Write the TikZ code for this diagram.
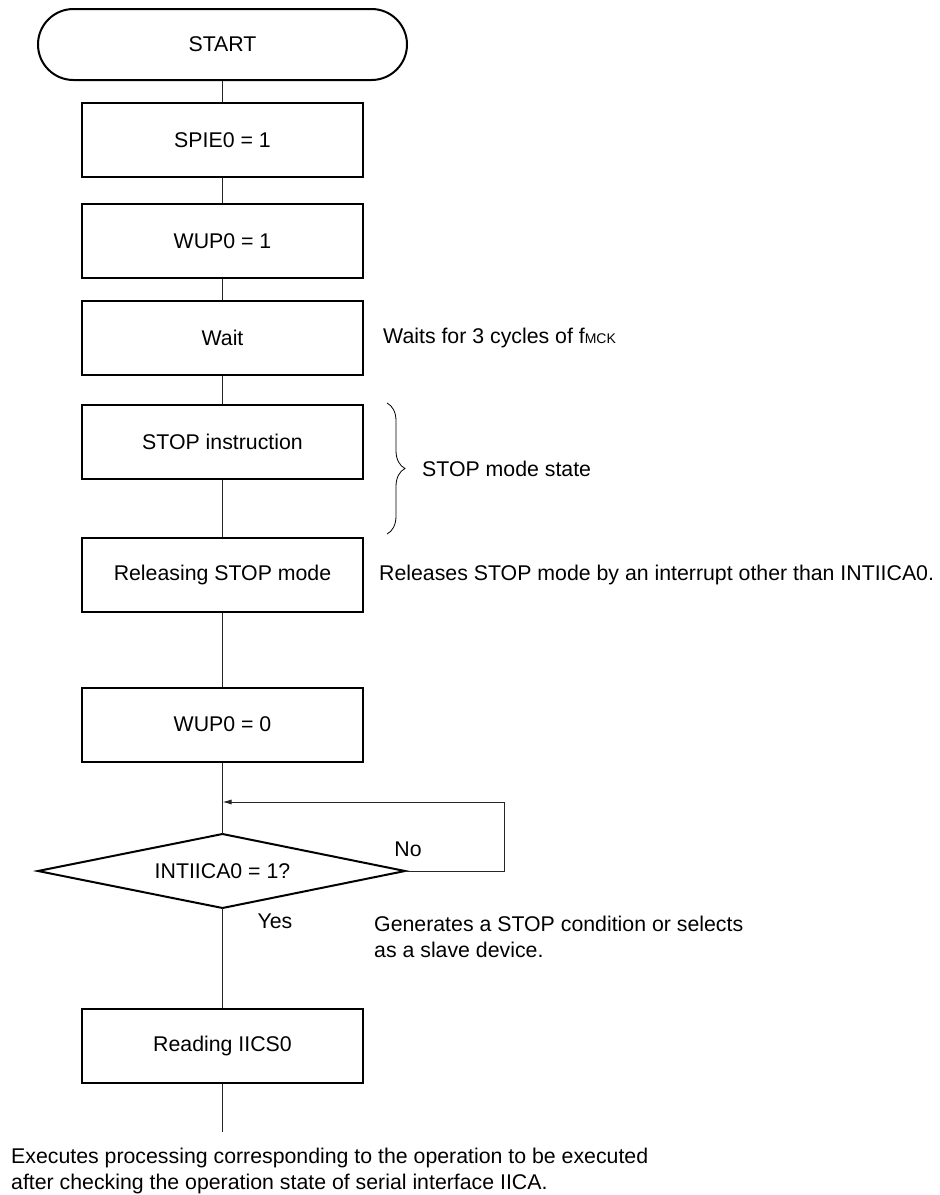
\documentclass[tikz,border=0pt]{standalone}
\usepackage{fontspec}
\setmainfont{Liberation Sans}
\usetikzlibrary{decorations.pathreplacing,arrows.meta}
\begin{document}
\begin{tikzpicture}[x=1pt,y=-1pt,
  every node/.style={font=\fontsize{21.3}{26}\selectfont},
  procbox/.style={draw, line width=2pt, minimum width=281pt, minimum height=74pt, inner sep=0pt},
  termbox/.style={draw, line width=2pt, minimum width=369pt, minimum height=71pt, rounded corners=35.5pt, inner sep=0pt},
  conn/.style={line width=0.9pt, draw=black!85},
  note/.style={anchor=west, inner sep=0pt},
]
\useasboundingbox (0,0) rectangle (940,1195);

\node[termbox] (start) at (222.5,44.5) {START};
\node[procbox] (spie) at (222.5,140) {SPIE0 = 1};
\node[procbox] (wup1) at (222.5,241) {WUP0 = 1};
\node[procbox] (wait) at (222.5,337.5) {Wait};
\node[procbox] (stop) at (222.5,441.5) {STOP instruction};
\node[procbox] (rel) at (222.5,575) {Releasing STOP mode};
\node[procbox] (wup0) at (222.5,724.5) {WUP0 = 0};
\draw[line width=2pt] (38,871) coordinate (dl) -- (222.5,834) coordinate (dt) -- (405,871) coordinate (dr) -- (222.5,908) coordinate (db) -- cycle;
\node (dec) at (222.5,871) {INTIICA0 = 1?};
\node[procbox] (read) at (222.5,1046) {Reading IICS0};

\coordinate (merge) at (222.5,802);
\coordinate (loopR) at (504,871);
\coordinate (loopT) at (504,802);
\coordinate (endpt) at (222.5,1132);

\draw[conn] (start) -- (spie);
\draw[conn] (spie) -- (wup1);
\draw[conn] (wup1) -- (wait);
\draw[conn] (wait) -- (stop);
\draw[conn] (stop) -- (rel);
\draw[conn] (rel) -- (wup0);
\draw[conn] (wup0) -- (dt);
\draw[conn] (db) -- (read);
\draw[conn] (read) -- (endpt);
\draw[conn, -{Latex[length=9pt,width=5pt]}] (dr) -- (loopR) -- (loopT) -- (merge);

\node (no) at (408,849) {No};
\node (yes) at (275,921) {Yes};

\node[note] (waitnote) at (383,338) {Waits for 3 cycles of f{\fontsize{14}{14}\selectfont MCK}};
\draw[line width=0.8pt, decorate, decoration={brace, amplitude=18pt}] (387,403) -- (387,534);
\node[note] (stopnote) at (422,469) {STOP mode state};
\node[note] (relnote) at (379,575) {Releases STOP mode by an interrupt other than INTIICA0.};
\node[note, align=left] (gennote) at (374,937) {Generates a STOP condition or selects\\as a slave device.};
\node[note, align=left] (endnote) at (11,1171) {Executes processing corresponding to the operation to be executed\\after checking the operation state of serial interface IICA.};
\end{tikzpicture}
\end{document}
